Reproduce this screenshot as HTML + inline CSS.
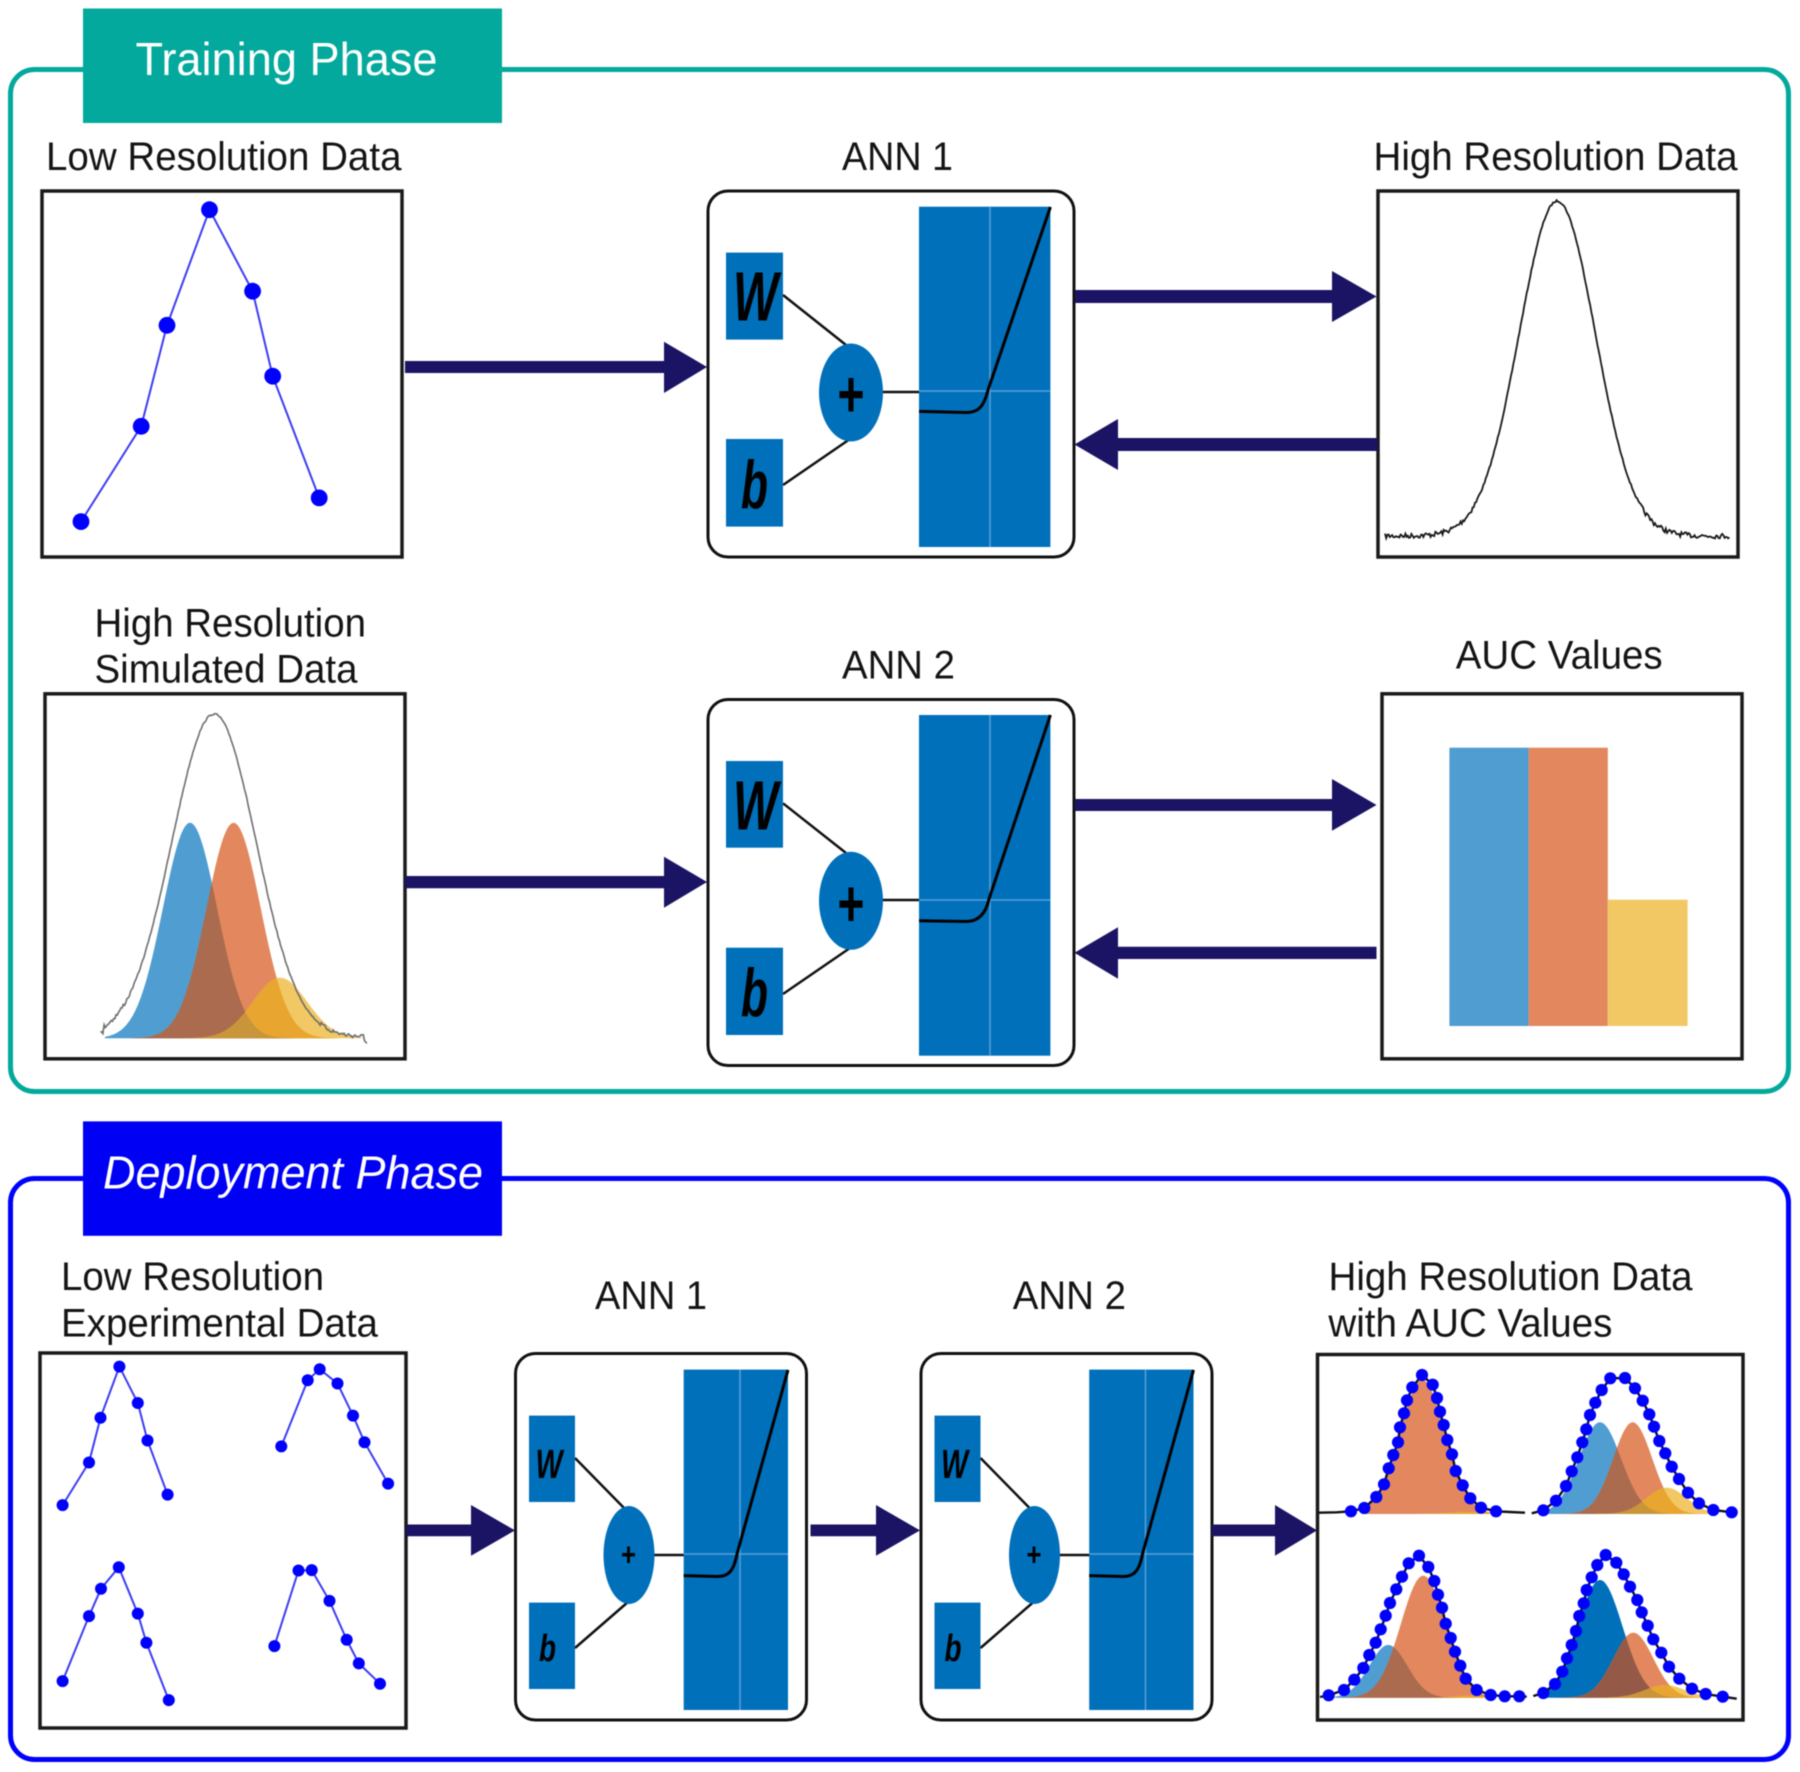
<!DOCTYPE html>
<html><head><meta charset="utf-8"><style>
html,body{margin:0;padding:0;background:#fff;width:1800px;height:1772px;overflow:hidden}
svg{display:block;filter:blur(.5px)}
text{font-family:"Liberation Sans",sans-serif;fill:#141414}
.w{font-weight:bold;font-style:italic;fill:#000}
.p{font-weight:bold;fill:#000}
.box{fill:#fff;stroke:#1a1a1a;stroke-width:3.5}
.ann{fill:#fff;stroke:#111;stroke-width:3}
.bl{fill:#0070bb}
.ln{stroke:#111;stroke-width:2.5;fill:none}
.gr{stroke:#5b9fd6;stroke-width:1.5;fill:none}
.cv{stroke:#000;stroke-width:3;fill:none}
.ar{fill:#1b1464}
</style></head><body>
<svg xmlns="http://www.w3.org/2000/svg" width="1800" height="1772" viewBox="0 0 1800 1772">
<!-- Training frame -->
<rect x="10.500" y="69.500" width="1778" height="1022" rx="24" fill="#fff" stroke="#03a99c" stroke-width="5"/>
<rect x="83" y="8.500" width="419" height="114.500" fill="#03a99c"/>
<text x="135.500" y="75" font-size="46.500" style="fill:#fff" textLength="302" lengthAdjust="spacingAndGlyphs">Training Phase</text>

<text x="46" y="170" font-size="39.500" textLength="355.500" lengthAdjust="spacingAndGlyphs">Low Resolution Data</text>
<text x="842" y="170" font-size="39.500" textLength="111" lengthAdjust="spacingAndGlyphs">ANN 1</text>
<text x="1373.500" y="170" font-size="39.500" textLength="364" lengthAdjust="spacingAndGlyphs">High Resolution Data</text>
<text x="94.500" y="636.700" font-size="39.500" textLength="271.500" lengthAdjust="spacingAndGlyphs">High Resolution</text>
<text x="94.500" y="682.700" font-size="39.500" textLength="263" lengthAdjust="spacingAndGlyphs">Simulated Data</text>
<text x="842" y="678.700" font-size="39.500" textLength="113" lengthAdjust="spacingAndGlyphs">ANN 2</text>
<text x="1455.700" y="668.700" font-size="39.500" textLength="207" lengthAdjust="spacingAndGlyphs">AUC Values</text>

<!-- boxes row 1 -->
<rect class="box" x="42" y="191" width="360" height="366"/>
<g id="lowres"></g>
<rect class="box" x="1378" y="191" width="360" height="366"/>
<g id="hires"></g>

<!-- ANN1 top -->
<rect class="ann" x="708" y="191" width="366" height="366" rx="20"/>
<line class="ln" x1="783" y1="295" x2="846" y2="345"/>
<line class="ln" x1="783" y1="485" x2="850" y2="439"/>
<line class="ln" x1="880" y1="392" x2="920" y2="392"/>
<rect class="bl" x="726" y="252.600" width="57" height="87"/>
<rect class="bl" x="726" y="439" width="57" height="87.600"/>
<ellipse class="bl" cx="851" cy="392.500" rx="32" ry="49"/>
<text class="w" x="733" y="320.700" font-size="70" textLength="45" lengthAdjust="spacingAndGlyphs">W</text>
<text class="w" x="741" y="508" font-size="68" textLength="27" lengthAdjust="spacingAndGlyphs">b</text>
<text class="p" x="837.500" y="416.500" font-size="66" textLength="27" lengthAdjust="spacingAndGlyphs">+</text>
<rect class="bl" x="919" y="206.700" width="131.400" height="340.300"/>
<line class="gr" x1="990" y1="206.700" x2="990" y2="547"/><line class="gr" x1="919" y1="391" x2="1050.400" y2="391"/>
<path class="cv" d="M919 411.400 L966 412.500 C979 412.500 984 406 988 390 L1050.400 207"/>

<!-- ANN2 top -->
<rect class="ann" x="708" y="699.500" width="366" height="366" rx="20"/>
<line class="ln" x1="783" y1="803.300" x2="846" y2="853"/>
<line class="ln" x1="783" y1="994" x2="850" y2="948"/>
<line class="ln" x1="880" y1="900" x2="920" y2="900"/>
<rect class="bl" x="726" y="761" width="57" height="86.700"/>
<rect class="bl" x="726" y="947.700" width="57" height="87.300"/>
<ellipse class="bl" cx="851" cy="900.800" rx="32" ry="49"/>
<text class="w" x="733" y="829.300" font-size="70" textLength="45" lengthAdjust="spacingAndGlyphs">W</text>
<text class="w" x="741" y="1016" font-size="68" textLength="27" lengthAdjust="spacingAndGlyphs">b</text>
<text class="p" x="837.500" y="925.800" font-size="66" textLength="27" lengthAdjust="spacingAndGlyphs">+</text>
<rect class="bl" x="919" y="715" width="131.400" height="340.700"/>
<line class="gr" x1="990" y1="715" x2="990" y2="1055.700"/><line class="gr" x1="919" y1="900" x2="1050.400" y2="900"/>
<path class="cv" d="M919 920.700 L966 921.500 C979 921.500 986 913 989 899 L1050.400 715"/>

<!-- row 2 boxes -->
<rect class="box" x="45" y="693.800" width="360" height="365"/>
<g id="sim"></g>
<rect class="box" x="1382" y="693.800" width="360" height="365"/>
<rect x="1449.400" y="747.700" width="79.200" height="278.300" fill="#4f9dd1"/>
<rect x="1528.600" y="747.700" width="79.200" height="278.300" fill="#e3885e"/>
<rect x="1607.800" y="899.700" width="79.800" height="126.300" fill="#f2c864"/>

<!-- arrows -->
<path class="ar" d="M405 361H664V341.700L707 367L664 393V373H405Z"/>
<path class="ar" d="M1075 290H1332V271L1376.500 296.500L1332 322V303H1075Z"/>
<path class="ar" d="M1377.600 438H1118V419L1074.500 444.500L1118 470V451H1377.600Z"/>
<path class="ar" d="M405 876H664V856.700L707 882L664 907.700V888.300H405Z"/>
<path class="ar" d="M1075 799H1332V779L1376.500 805L1332 830.700V811H1075Z"/>
<path class="ar" d="M1376.500 946.700H1118V927.300L1074.500 952.800L1118 978.700V959H1376.500Z"/>

<!-- Deployment frame -->
<rect x="10.500" y="1178.500" width="1778" height="581" rx="24" fill="#fff" stroke="#0000ff" stroke-width="5"/>
<rect x="83" y="1121.400" width="419" height="114.400" fill="#0000f5"/>
<text x="103" y="1188.500" font-size="46" style="fill:#fff;font-style:italic" textLength="380" lengthAdjust="spacingAndGlyphs">Deployment Phase</text>

<text x="61" y="1290" font-size="39.500" textLength="263" lengthAdjust="spacingAndGlyphs">Low Resolution</text>
<text x="61" y="1336.700" font-size="39.500" textLength="317" lengthAdjust="spacingAndGlyphs">Experimental Data</text>
<text x="595" y="1309" font-size="39.500" textLength="112" lengthAdjust="spacingAndGlyphs">ANN 1</text>
<text x="1012.700" y="1309" font-size="39.500" textLength="113.300" lengthAdjust="spacingAndGlyphs">ANN 2</text>
<text x="1328.500" y="1290" font-size="39.500" textLength="364" lengthAdjust="spacingAndGlyphs">High Resolution Data</text>
<text x="1328.400" y="1336.700" font-size="39.500" textLength="284" lengthAdjust="spacingAndGlyphs">with AUC Values</text>

<rect class="box" x="40" y="1353" width="366" height="375"/>
<g id="four"></g>

<!-- deployment ANN 1 -->
<g>
<rect class="ann" x="515.500" y="1353.500" width="291" height="366.500" rx="20"/>
<line class="ln" x1="575" y1="1458" x2="625" y2="1509"/>
<line class="ln" x1="575" y1="1648" x2="628" y2="1602"/>
<line class="ln" x1="652" y1="1555" x2="685" y2="1555"/>
<rect class="bl" x="529" y="1415.600" width="46" height="86.400"/>
<rect class="bl" x="529" y="1602.600" width="46" height="86.400"/>
<ellipse class="bl" cx="629" cy="1555" rx="25.500" ry="49"/>
<text class="w" x="535.500" y="1478" font-size="41" textLength="27" lengthAdjust="spacingAndGlyphs">W</text>
<text class="w" x="539" y="1661" font-size="38" textLength="17" lengthAdjust="spacingAndGlyphs">b</text>
<text class="p" x="621" y="1565.500" font-size="32" textLength="15" lengthAdjust="spacingAndGlyphs">+</text>
<rect class="bl" x="683.700" y="1369.600" width="104.300" height="340.400"/>
<line class="gr" x1="740" y1="1369.600" x2="740" y2="1710"/><line class="gr" x1="683.700" y1="1554" x2="788" y2="1554"/>
<path class="cv" d="M683.700 1575.600 L718 1576.500 C729 1576.500 734 1570 737 1554 L788 1370"/>
</g>
<!-- deployment ANN 2 -->
<g transform="translate(405.500 0)">
<rect class="ann" x="515.500" y="1353.500" width="291" height="366.500" rx="20"/>
<line class="ln" x1="575" y1="1458" x2="625" y2="1509"/>
<line class="ln" x1="575" y1="1648" x2="628" y2="1602"/>
<line class="ln" x1="652" y1="1555" x2="685" y2="1555"/>
<rect class="bl" x="529" y="1415.600" width="46" height="86.400"/>
<rect class="bl" x="529" y="1602.600" width="46" height="86.400"/>
<ellipse class="bl" cx="629" cy="1555" rx="25.500" ry="49"/>
<text class="w" x="535.500" y="1478" font-size="41" textLength="27" lengthAdjust="spacingAndGlyphs">W</text>
<text class="w" x="539" y="1661" font-size="38" textLength="17" lengthAdjust="spacingAndGlyphs">b</text>
<text class="p" x="621" y="1565.500" font-size="32" textLength="15" lengthAdjust="spacingAndGlyphs">+</text>
<rect class="bl" x="683.700" y="1369.600" width="104.300" height="340.400"/>
<line class="gr" x1="740" y1="1369.600" x2="740" y2="1710"/><line class="gr" x1="683.700" y1="1554" x2="788" y2="1554"/>
<path class="cv" d="M683.700 1575.600 L718 1576.500 C729 1576.500 734 1570 737 1554 L788 1370"/>
</g>

<rect class="box" x="1317.500" y="1354.500" width="425.500" height="365.500"/>
<g id="result"></g>

<path class="ar" d="M406.400 1524.500H471V1505L515 1530.400L471 1555.800V1536.300H406.400Z"/>
<path class="ar" d="M810.500 1524.500H876V1505L920 1530.400L876 1555.800V1536.300H810.500Z"/>
<path class="ar" d="M1211.700 1524.500H1275V1505L1317 1530.400L1275 1555.800V1536.300H1211.700Z"/>
</svg>
<script>
(function(){
var B='#4f9dd1',O='#e3885e',Y='#f2c864',BR='#ab6b4e',AM='#e8a52f',DK='#c9953a';
var seed=7;function rnd(){seed=(seed*16807)%2147483647;return seed/2147483647-.5;}
function G(c,a,s){return function(x){return a*Math.exp(-(x-c)*(x-c)/(2*s*s));};}
function area(fn,x0,x1,base,fill){var d='M'+x0+' '+base;for(var x=x0;x<=x1;x+=1)d+='L'+x+' '+(base-fn(x)).toFixed(1);return '<path d="'+d+'L'+x1+' '+base+'Z" fill="'+fill+'"/>';}
function min2(a,b){return function(x){return Math.min(a(x),b(x));};}
function peaks(b,o,y,x0,x1,base,bcol,brcol){var s='';
 if(b)s+=area(b,x0,x1,base,bcol||B);
 s+=area(o,x0,x1,base,O);
 s+=area(y,x0,x1,base,Y);
 if(b)s+=area(min2(b,o),x0,x1,base,brcol||BR);
 s+=area(min2(o,y),x0,x1,base,AM);
 if(b)s+=area(min2(min2(b,y),o),x0,x1,base,DK);
 return s;}
function pl(pts,stroke,w){return '<polyline fill="none" stroke="'+stroke+'" stroke-width="'+w+'" points="'+pts.map(function(p){return p[0].toFixed(1)+','+p[1].toFixed(1);}).join(' ')+'"/>';}
function dotted(pts,col,w,r){var s=pl(pts,col,w);pts.forEach(function(p){s+='<circle cx="'+p[0].toFixed(1)+'" cy="'+p[1].toFixed(1)+'" r="'+r+'" fill="#0000ff"/>';});return s;}
// low-res
document.getElementById('lowres').innerHTML=dotted([[81,521.6],[141.2,426.3],[167,325.3],[209.5,209.7],[252.6,291.2],[272.7,376.2],[319.2,497.9]],'#3d3df2',2,8.4);
// hi-res noisy
var pts=[],h=G(1557.3,335,38);for(var x=1385;x<=1730.6;x+=1.2){var n=(x<1480||x>1640)?5:1.8;pts.push([x,536-h(x)+rnd()*n]);}
document.getElementById('hires').innerHTML=pl(pts,'#1a1a1a',1.8);
// simulated
var s='';s+=peaks(G(190,215.5,27),G(233.6,215.5,27),G(280,60.6,27),105,365,1038.3);
pts=[];h=G(214,323,42);for(x=100.5;x<=367.4;x+=1.2){n=(x<130||x>320)?4.5:1.6;pts.push([x,1037-h(x)+rnd()*n+(x<103||x>364?5:0)]);}
s+=pl(pts,'#6f6f6f',1.6);
document.getElementById('sim').innerHTML=s;
// four low-res panels
function f(a){return a.map(function(p){return [p[0]/1.742,p[1]/2.369+1110];});}
var four=[[[109,936],[155,835],[175,729],[208,608],[240,694],[257,783],[292,911]],
[[490,797],[536,640],[557,614],[588,648],[615,724],[635,787],[676,885]],
[[109,1353],[155,1199],[176,1134],[207,1083],[240,1193],[255,1262],[294,1398]],
[[478,1270],[520,1091],[543,1090],[574,1163],[604,1255],[625,1311],[662,1359]]];
s='';four.forEach(function(a){s+=dotted(f(a),'#3d3df2',2,6);});
document.getElementById('four').innerHTML=s;
// result panels
function z(a){return a.map(function(p){return [1310+p[0]/3,1350+p[1]/3];});}
s='';
s+=peaks(null,G(1422.3,134,22.8),G(1470,2,20),1365,1490,1514);
s+=peaks(G(1600,91.7,21),G(1632.7,91.7,19.5),G(1666.7,26.3,20),1545,1715,1514);
s+=peaks(G(1388.3,52.7,19),G(1423.3,122,22.4),G(1470,2,15),1335,1490,1697.7);
s+=peaks(G(1600,117.7,22.5),G(1633.3,65,20),G(1665,12.7,20),1545,1705,1697.7,'#0070bb','#955a47');
var dots=[
{p:[[123,484],[163,474],[199,441],[222,403],[236,355],[250,315],[264,277],[270,232],[282,190],[291,151],[307,112],[336,75],[368,104],[381,144],[390,185],[401,225],[412,270],[426,313],[437,363],[458,406],[481,445],[513,473],[558,484]],a:[[25,488],[80,487]],b:[[600,486],[645,488]]},
{p:[[700,481],[738,452],[768,408],[785,364],[802,322],[817,277],[829,238],[840,195],[856,158],[875,120],[901,85],[945,84],[975,115],[998,152],[1018,193],[1032,230],[1048,273],[1066,310],[1085,350],[1107,387],[1134,428],[1167,460],[1210,480],[1265,487]],a:[[665,490]],b:[]},
{p:[[56,1036],[102,1020],[133,989],[160,954],[178,915],[197,878],[212,838],[227,797],[240,759],[259,718],[276,680],[296,640],[327,617],[355,651],[373,693],[384,734],[396,773],[407,821],[422,864],[435,905],[451,947],[467,986],[500,1020],[542,1035],[584,1039],[628,1039]],a:[[30,1041]],b:[[650,1040]]},
{p:[[700,1029],[735,1002],[757,965],[771,925],[785,885],[798,843],[808,798],[821,760],[830,720],[845,682],[862,645],[887,615],[919,638],[941,673],[960,710],[982,750],[995,787],[1013,827],[1030,868],[1054,908],[1077,950],[1108,986],[1146,1016],[1187,1032],[1238,1040]],a:[[670,1038]],b:[[1280,1046]]}];
dots.forEach(function(d){var ln=d.a.concat(d.p,d.b);s+=pl(z(ln),'#111',2.4);});
dots.forEach(function(d){z(d.p).forEach(function(p){s+='<circle cx="'+p[0].toFixed(1)+'" cy="'+p[1].toFixed(1)+'" r="6.1" fill="#0000ff"/>';});});
document.getElementById('result').innerHTML=s;
})();
</script>
</body></html>
